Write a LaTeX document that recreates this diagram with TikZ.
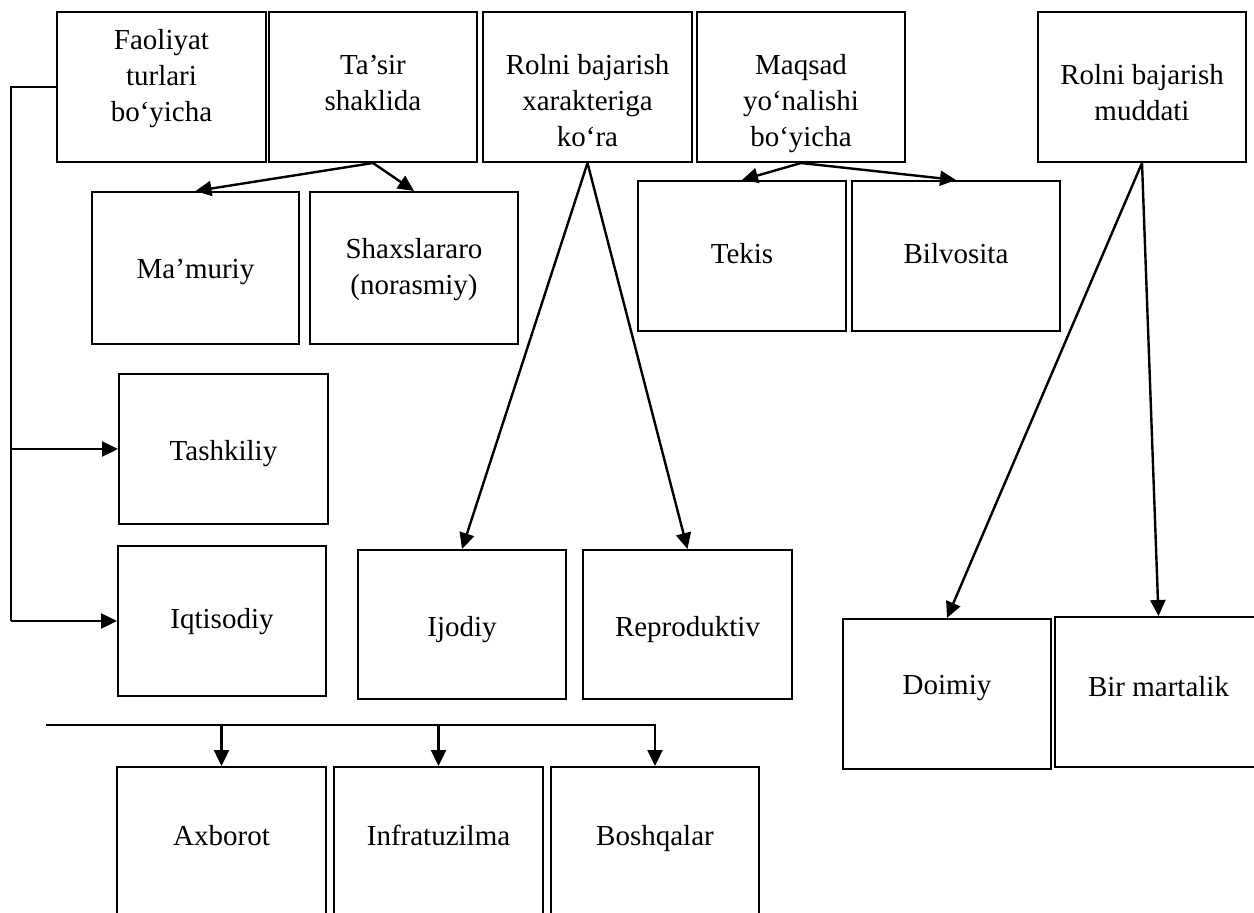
\documentclass[tikz,border=0pt]{standalone}
\usepackage{fontspec}
\setmainfont{Liberation Serif}
\usetikzlibrary{arrows.meta}

\tikzset{
  box/.style={draw, rectangle, line width=2pt, inner sep=0pt, minimum height=150pt},
  label text/.style={anchor=base, align=center, inner sep=0pt,
    font=\fontsize{29}{36}\selectfont},
  link/.style={line width=2.4pt},
  arrowlink/.style={link, -{Triangle[length=16pt,width=15pt]}},
}

\begin{document}
\begin{tikzpicture}[x=1pt, y=-1pt]
\clip (0,0) rectangle (1254,913);
\fill[white] (0,0) rectangle (1254,913);

% headline boxes
\node[box, minimum width=209pt] (faol)   at (161.5,87) {};
\node[box, minimum width=208pt] (tasir)  at (373,87)   {};
\node[box, minimum width=209pt] (xarak)  at (587.5,87) {};
\node[box, minimum width=208pt] (maqsad) at (801,87)   {};
\node[box, minimum width=208pt] (muddat) at (1142,87)  {};

% multi-line labels sit on the baseline of their last line
\node[label text] (faol-t)   at (161.5,121) {Faoliyat\\turlari\\bo‘yicha};
\node[label text] (tasir-t)  at (373,110)   {Ta’sir\\shaklida};
\node[label text] (xarak-t)  at (587.5,146) {Rolni bajarish\\xarakteriga\\ko‘ra};
\node[label text] (maqsad-t) at (801,146)   {Maqsad\\yo‘nalishi\\bo‘yicha};
\node[label text] (muddat-t) at (1142,120)  {Rolni bajarish\\muddati};

% sub-category boxes
\node[box, minimum width=207pt, minimum height=152pt] (mamur) at (195.5,268) {};
\node[box, minimum width=208pt, minimum height=152pt] (shaxs) at (414,268)   {};
\node[box, minimum width=208pt] (tekis)  at (742,256)    {};
\node[box, minimum width=208pt] (bilvos) at (956,256)    {};
\node[box, minimum width=209pt] (tashk)  at (223.5,449)  {};
\node[box, minimum width=208pt] (iqtis)  at (222,621)    {};
\node[box, minimum width=208pt, minimum height=149pt] (ijod)  at (462,624.5)   {};
\node[box, minimum width=209pt, minimum height=149pt] (repro) at (687.5,624.5) {};
\node[box, minimum width=208pt] (doim)   at (947,694)    {};
\node[box, minimum width=207pt] (birm)   at (1158.5,692) {};
\node[box, minimum width=209pt, minimum height=153pt] (axb)   at (221.5,843.5) {};
\node[box, minimum width=209pt, minimum height=153pt] (infra) at (438.5,843.5) {};
\node[box, minimum width=208pt, minimum height=153pt] (bosh)  at (655,843.5)   {};

\node[label text] (mamur-t)  at (195.5,278) {Ma’muriy};
\node[label text] (shaxs-t)  at (414,294)   {Shaxslararo\\(norasmiy)};
\node[label text] (tekis-t)  at (742,263)   {Tekis};
\node[label text] (bilvos-t) at (956,263)   {Bilvosita};
\node[label text] (tashk-t)  at (223.5,460) {Tashkiliy};
\node[label text] (iqtis-t)  at (222,628)   {Iqtisodiy};
\node[label text] (ijod-t)   at (462,636)   {Ijodiy};
\node[label text] (repro-t)  at (687.5,636) {Reproduktiv};
\node[label text] (doim-t)   at (947,694)   {Doimiy};
\node[label text] (birm-t)   at (1158.5,696) {Bir martalik};
\node[label text] (axb-t)    at (221.5,845) {Axborot};
\node[label text] (infra-t)  at (438.5,845) {Infratuzilma};
\node[label text] (bosh-t)   at (655,845)   {Boshqalar};

% branching connectors
\draw[arrowlink] (tasir.south) -- (mamur.north);
\draw[arrowlink] (tasir.south) -- (shaxs.north);
\draw[arrowlink] (xarak.south) -- (ijod.north);
\draw[arrowlink] (xarak.south) -- (repro.north);
\draw[arrowlink] (maqsad.south) -- (tekis.north);
\draw[arrowlink] (maqsad.south) -- (bilvos.north);
\draw[arrowlink] (muddat.south) -- (doim.north);
\draw[arrowlink] (muddat.south) -- (birm.north);

% left bracket
\coordinate (brk) at (11,621);
\draw[link] (faol.west) -| (brk);
\draw[arrowlink] (brk) -- (iqtis.west);
\draw[arrowlink] (brk |- tashk.west) -- (tashk.west);

% bottom bus
\coordinate (bus) at (46,725);
\draw[arrowlink] (bus) -| (bosh.north);
\draw[arrowlink] (axb.north |- bus) -- (axb.north);
\draw[arrowlink] (infra.north |- bus) -- (infra.north);
\end{tikzpicture}
\end{document}
